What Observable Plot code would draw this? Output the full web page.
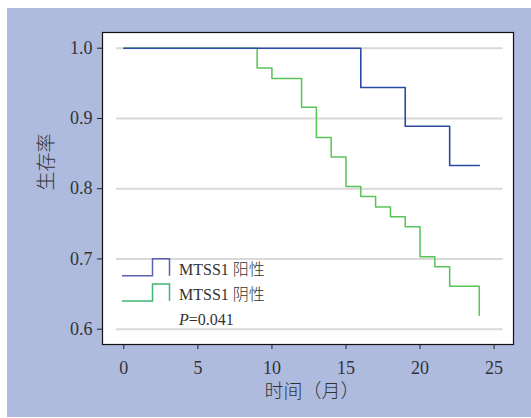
<!DOCTYPE html>
<html><head><meta charset="utf-8">
<script src="https://cdn.jsdelivr.net/npm/d3@7"></script>
<script src="https://cdn.jsdelivr.net/npm/@observablehq/plot@0.6"></script>
<style>
html,body{margin:0;padding:0;background:#fff;}
#wrap{position:relative;width:531px;height:418px;overflow:hidden;}
#bg{position:absolute;left:7px;top:8px;width:524px;height:409px;background:#aebbdf;}
#chart{position:absolute;left:0;top:0;}
#legend{position:absolute;left:0;top:0;pointer-events:none;}
</style></head><body>
<div id="wrap"><div id="bg"></div><div id="chart"></div><svg id="legend" width="531" height="418"></svg></div>
<script>
// Data
const positiveTime = [0, 16, 19, 22, 24];
const positiveSurv = [1.0, 0.944, 0.889, 0.833, 0.833];
const negativeTime = [0, 9, 10, 12, 13, 14, 15, 16, 17, 18, 19, 20, 21, 22, 24, 24];
const negativeSurv = [1.0, 0.972, 0.957, 0.916, 0.873, 0.845, 0.803, 0.789, 0.774, 0.760, 0.746, 0.703, 0.689, 0.661, 0.661, 0.620];
const seriesNames = ["MTSS1 阳性", "MTSS1 阴性"];
const pValueText = "=0.041";
const xTicks = [0, 5, 10, 15, 20, 25];
const yTicks = [0.6, 0.7, 0.8, 0.9, 1.0];
const xLabel = "时间（月）";
const yLabel = "生存率";
const xDomain = [-1.44, 26.31];
const yDomain = [0.5782, 1.0224];
const gridX = [-0.5, 25.6];

const posData = positiveTime.map((t, i) => ({t, s: positiveSurv[i]}));
const negData = negativeTime.map((t, i) => ({t, s: negativeSurv[i]}));

const lineBlue = "#2b4ba3";
const lineGreen = "#58c458";
const legBlue = "#5862b0";
const legGreen = "#3fb673";
const serif = "'Liberation Serif','Noto Sans CJK SC',serif";

const chart = Plot.plot({
  width: 531, height: 418,
  marginLeft: 102, marginRight: 18, marginTop: 32, marginBottom: 74,
  style: {background: "transparent", fontFamily: serif, fontSize: "18px", color: "#333"},
  x: {domain: xDomain, ticks: xTicks},
  y: {domain: yDomain, ticks: yTicks},
  marks: [
    Plot.frame({fill: "white"}),
    Plot.ruleY(yTicks, {x1: gridX[0], x2: gridX[1], stroke: "#d9d9d9", strokeWidth: 2}),
    Plot.line(negData, {x: "t", y: "s", curve: "step-after", stroke: lineGreen, strokeWidth: 1.5}),
    Plot.line(posData, {x: "t", y: "s", curve: "step-after", stroke: lineBlue, strokeWidth: 1.6}),
    Plot.frame({stroke: "#111", strokeWidth: 1.2}),
    Plot.axisY(yTicks, {tickSize: 5, tickPadding: 5, tickFormat: d3.format(".1f"), label: null, fontSize: 18, stroke: "#222"}),
    Plot.axisX(xTicks, {tickSize: 5, tickPadding: 12, label: null, fontSize: 18, stroke: "#222"}),
    Plot.text([yLabel], {frameAnchor: "left", dx: -56, dy: 2, rotate: -90, fontSize: 19, fontWeight: 300, fill: "#333"}),
    Plot.text([xLabel], {frameAnchor: "bottom", dx: 4, dy: 53, fontSize: 19, fontWeight: 300, fill: "#333"})
  ]
});
document.getElementById("chart").append(chart);

// Legend (step glyphs + labels)
const leg = d3.select("#legend");
const rows = [
  {name: seriesNames[0], color: legBlue, base: 275.7, textY: 274.5},
  {name: seriesNames[1], color: legGreen, base: 301, textY: 300}
];
rows.forEach(r => {
  leg.append("path")
    .attr("d", `M122,${r.base}H152.5V${r.base - 17}H169.5V${r.base}`)
    .attr("fill", "none").attr("stroke", r.color).attr("stroke-width", 1.5);
  leg.append("text").attr("x", 179).attr("y", r.textY)
    .attr("font-family", serif).attr("font-size", 16).attr("font-weight", 300)
    .attr("fill", "#333").text(r.name);
});
const pt = leg.append("text").attr("x", 179).attr("y", 325)
  .attr("font-family", serif).attr("font-size", 16).attr("fill", "#333");
pt.append("tspan").attr("font-style", "italic").text("P");
pt.append("tspan").text(pValueText);
</script>
</body></html>
